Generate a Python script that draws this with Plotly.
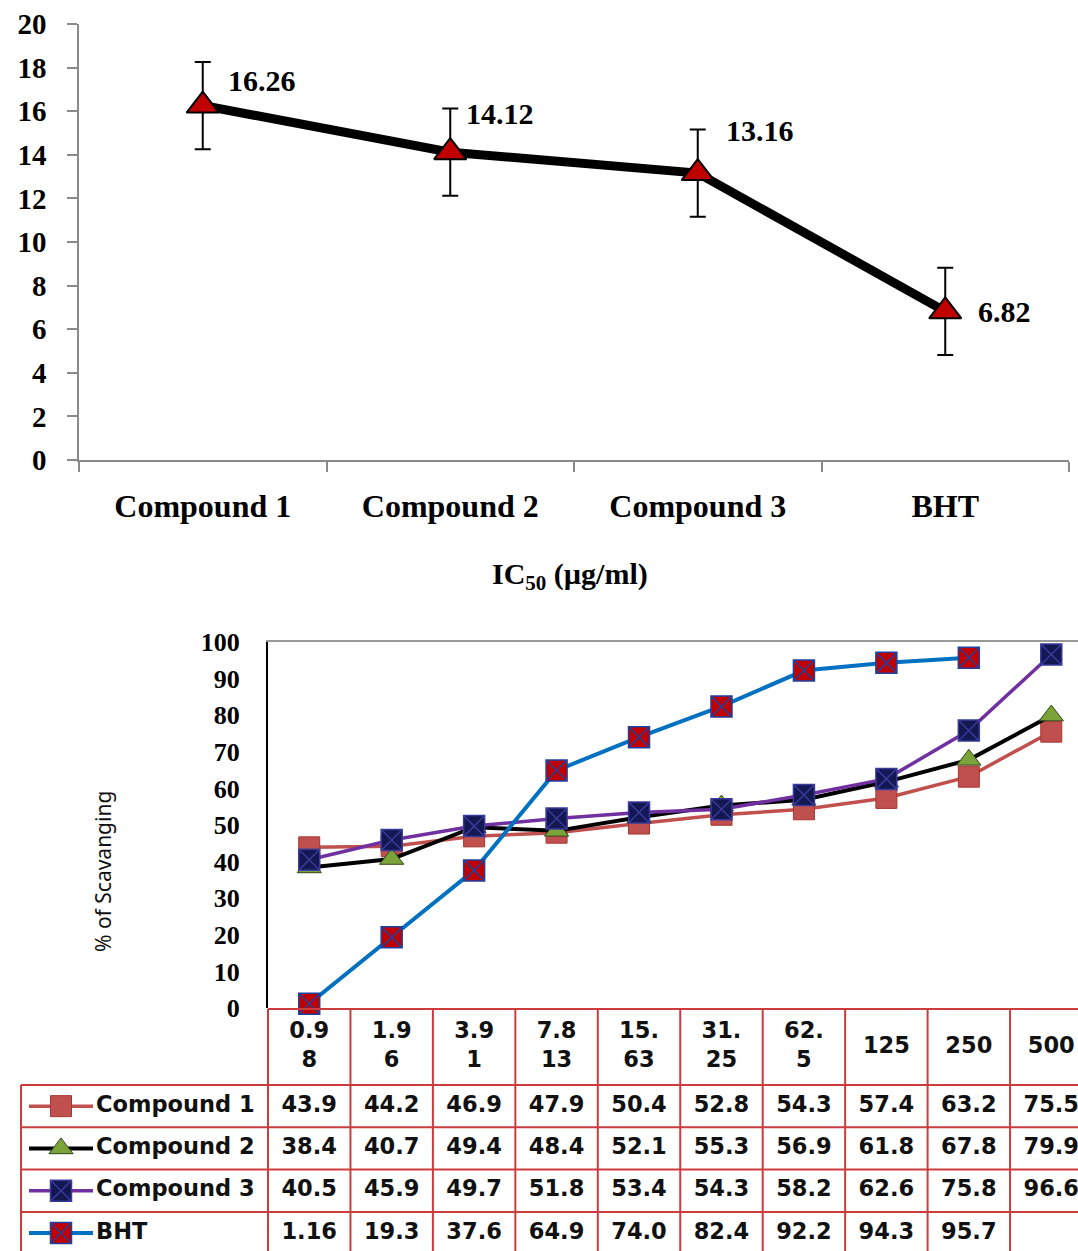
import plotly.graph_objects as go

# ---------------- data ----------------
ic_categories = ["Compound 1", "Compound 2", "Compound 3", "BHT"]
ic50_values = [16.26, 14.12, 13.16, 6.82]
ic50_errors = [2.0, 2.0, 2.0, 2.0]

concentrations = ["0.98", "1.96", "3.91", "7.813", "15.63", "31.25", "62.5", "125", "250", "500"]
concentration_labels = ["0.9<br>8", "1.9<br>6", "3.9<br>1", "7.8<br>13", "15.<br>63",
                        "31.<br>25", "62.<br>5", "125", "250", "500"]

series_names = ["Compound 1", "Compound 2", "Compound 3", "BHT"]
compound1 = [43.9, 44.2, 46.9, 47.9, 50.4, 52.8, 54.3, 57.4, 63.2, 75.5]
compound2 = [38.4, 40.7, 49.4, 48.4, 52.1, 55.3, 56.9, 61.8, 67.8, 79.9]
compound3 = [40.5, 45.9, 49.7, 51.8, 53.4, 54.3, 58.2, 62.6, 75.8, 96.6]
bht = [1.16, 19.3, 37.6, 64.9, 74.0, 82.4, 92.2, 94.3, 95.7, None]

# ---------------- layout helpers ----------------
W, H = 1078, 1251
def pxx(p):
    return p / W
def pxy(p):
    return 1 - p / H

SERIF = "Liberation Serif"
SANS = "DejaVu Sans"

styles = [
    dict(line=dict(color="#C0504D", width=3.5),
         marker=dict(symbol="square", size=21, color="#C0504D", line=dict(color="#A8342F", width=1))),
    dict(line=dict(color="#000000", width=4),
         marker=dict(symbol="triangle-up", size=21, color="#7AA33A", line=dict(color="#33461A", width=1))),
    dict(line=dict(color="#7030A0", width=3.5),
         marker=dict(symbol="square-x", size=21, color="#131852", line=dict(color="#3A3A9A", width=1.5))),
    dict(line=dict(color="#0070C0", width=4),
         marker=dict(symbol="square-x", size=21, color="#C00000", line=dict(color="#2040A0", width=1.5))),
]
series_values = [compound1, compound2, compound3, bht]

fig = go.Figure()

# ---------------- top chart ----------------
fig.add_trace(go.Scatter(
    x=ic_categories, y=ic50_values, mode="lines+markers",
    error_y=dict(type="data", array=ic50_errors, color="black", thickness=2, width=8),
    line=dict(color="black", width=9),
    marker=dict(symbol="triangle-up", size=28, color="#C00000", line=dict(color="black", width=2)),
    xaxis="x", yaxis="y", showlegend=False, hoverinfo="skip"))

label_shift = [(23, 25), (14, 39), (26, 43), (31, 0)]
annotations = []
for cat, v, (dx, dy) in zip(ic_categories, ic50_values, label_shift):
    annotations.append(dict(x=cat, y=v, xref="x", yref="y", text=f"<b>{v:.2f}</b>",
                            showarrow=False, xanchor="left", yanchor="middle",
                            xshift=dx, yshift=dy,
                            font=dict(family=SERIF, size=30, color="black")))

annotations.append(dict(x=pxx(570), y=pxy(576), xref="paper", yref="paper",
                        xanchor="center", yanchor="middle",
                        text="<b>IC<sub>50</sub> (µg/ml)</b>", showarrow=False,
                        font=dict(family=SERIF, size=30, color="black")))

# ---------------- bottom chart ----------------
for name, vals, st in zip(series_names, series_values, styles):
    fig.add_trace(go.Scatter(x=concentrations, y=vals, mode="lines+markers", name=name,
                             line=st["line"], marker=st["marker"], cliponaxis=False,
                             xaxis="x2", yaxis="y2", showlegend=False, hoverinfo="skip"))

annotations.append(dict(x=pxx(103), y=pxy(872), xref="paper", yref="paper",
                        xanchor="center", yanchor="middle",
                        text="% of Scavanging", textangle=-90, showarrow=False,
                        font=dict(family="Noto Sans", size=21, color="#111")))

# ---------------- table (own axes aligned to bottom chart) ----------------
COLW = 82.45
PLOT_LEFT = 268
x3_lo = -0.5 - PLOT_LEFT / COLW
x3_hi = x3_lo + W / COLW
ROWH = 42.3
Y0PX = 1009
TOPPX = 1000
y3_top = (TOPPX - Y0PX) / ROWH
y3_bot = (H - Y0PX) / ROWH
HEAD = (1085 - Y0PX) / ROWH
LABEL_LEFT = x3_lo + 21 / COLW
KEY_X0 = x3_lo + 29 / COLW
KEY_X1 = x3_lo + 93 / COLW
KEY_XM = x3_lo + 61 / COLW
TEXT_X = x3_lo + 96 / COLW

n = len(concentrations)
cols = list(range(n))
row_centers = [HEAD + 0.5 + i for i in range(len(series_names))]

TFONT = dict(family=SANS, size=22.5, color="#111", weight="bold")

fig.add_trace(go.Scatter(x=cols, y=[HEAD / 2] * n, text=concentration_labels, mode="text",
                         textfont=TFONT, xaxis="x3", yaxis="y3", showlegend=False, hoverinfo="skip"))
for name, vals, st, yc in zip(series_names, series_values, styles, row_centers):
    xs = [c for c, v in zip(cols, vals) if v is not None]
    ts = [str(v) for v in vals if v is not None]
    fig.add_trace(go.Scatter(x=xs, y=[yc] * len(xs), text=ts,
                             mode="text", textfont=TFONT, xaxis="x3", yaxis="y3",
                             showlegend=False, hoverinfo="skip"))
    fig.add_trace(go.Scatter(x=[KEY_X0, KEY_X1], y=[yc, yc], mode="lines", line=st["line"],
                             xaxis="x3", yaxis="y3", showlegend=False, hoverinfo="skip"))
    fig.add_trace(go.Scatter(x=[KEY_XM], y=[yc], mode="markers", marker=st["marker"],
                             xaxis="x3", yaxis="y3", showlegend=False, hoverinfo="skip"))
    fig.add_trace(go.Scatter(x=[TEXT_X], y=[yc], text=[name], mode="text", textposition="middle right",
                             textfont=TFONT, xaxis="x3", yaxis="y3", showlegend=False, hoverinfo="skip"))

RED = "rgb(205,60,60)"
shapes = []
for k in range(n + 1):
    shapes.append(dict(type="line", xref="x3", yref="y3", x0=k - 0.5, x1=k - 0.5, y0=0, y1=y3_bot + 1,
                       line=dict(color=RED, width=2), layer="below"))
shapes.append(dict(type="line", xref="x3", yref="y3", x0=LABEL_LEFT, x1=LABEL_LEFT, y0=HEAD, y1=y3_bot + 1,
                   line=dict(color=RED, width=2), layer="below"))
shapes.append(dict(type="line", xref="x3", yref="y3", x0=-0.5, x1=n, y0=0, y1=0,
                   line=dict(color=RED, width=2), layer="below"))
for i in range(len(series_names) + 1):
    shapes.append(dict(type="line", xref="x3", yref="y3", x0=LABEL_LEFT, x1=n, y0=HEAD + i, y1=HEAD + i,
                       line=dict(color=RED, width=2), layer="below"))

# ---------------- layout ----------------
fig.update_layout(
    width=W, height=H, margin=dict(l=0, r=0, t=0, b=0, pad=0, autoexpand=False),
    paper_bgcolor="white", plot_bgcolor="rgba(0,0,0,0)", showlegend=False,
    annotations=annotations, shapes=shapes,
    xaxis=dict(domain=[pxx(79), pxx(1069)], type="category", range=[-0.5, 3.5], anchor="y",
               automargin=False,
               showline=True, linecolor="#8a8a8a", linewidth=1.5, ticks="outside", tickson="boundaries",
               ticklen=10, tickcolor="#8a8a8a", tickwidth=1.5, showgrid=False, zeroline=False,
               ticklabelstandoff=17,
               tickfont=dict(family=SERIF, size=32, color="black", weight="bold")),
    yaxis=dict(domain=[pxy(460), pxy(24)], range=[0, 20], dtick=2, anchor="x", automargin=False,
               showline=True, linecolor="#8a8a8a", linewidth=1.5, ticks="outside", ticklen=10,
               tickcolor="#8a8a8a", tickwidth=1.5, showgrid=False, zeroline=False,
               ticklabelstandoff=15,
               tickfont=dict(family=SERIF, size=29, color="black", weight="bold")),
    xaxis2=dict(domain=[pxx(PLOT_LEFT), 1], type="category", range=[-0.5, -0.5 + (W - PLOT_LEFT) / COLW],
                anchor="y2", side="top", showline=True, linecolor="#999", linewidth=2, automargin=False,
                showticklabels=False, ticks="", showgrid=False, zeroline=False),
    yaxis2=dict(domain=[pxy(1008), pxy(642)], range=[0, 100], dtick=10, anchor="x2", automargin=False,
                showline=True, linecolor="black", linewidth=2, ticks="", showgrid=False, zeroline=False,
                ticklabelstandoff=21,
                tickfont=dict(family=SERIF, size=26, color="black", weight="bold")),
    xaxis3=dict(domain=[0, 1], range=[x3_lo, x3_hi], anchor="y3", visible=False, automargin=False),
    yaxis3=dict(domain=[0, pxy(TOPPX)], range=[y3_bot, y3_top], anchor="x3", visible=False, automargin=False),
)

fig.write_html("out.html", config={"displayModeBar": False},
               post_script="document.body.style.margin='0';document.documentElement.style.overflow='hidden';")
